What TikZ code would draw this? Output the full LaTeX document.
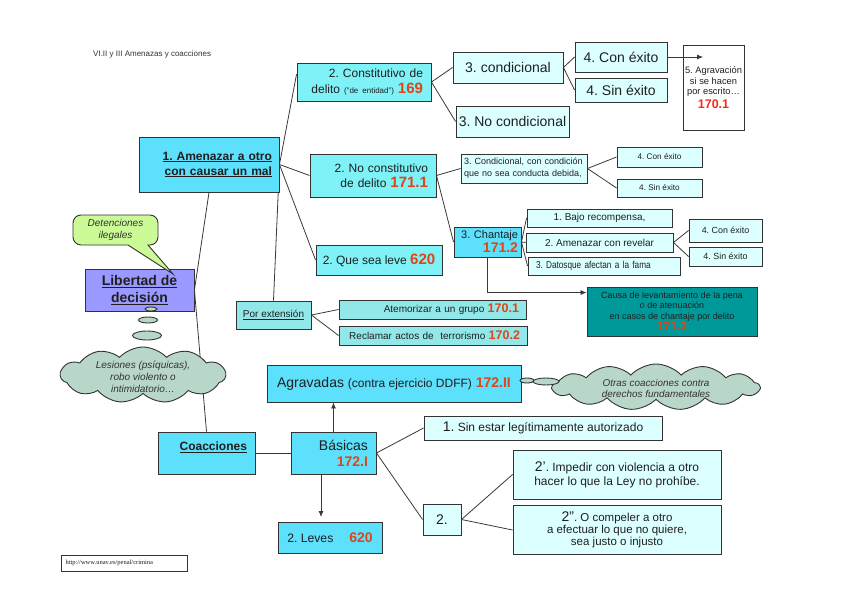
\documentclass[tikz,border=0pt]{standalone}
\usepackage{fontspec}
\setmainfont{Liberation Sans}
\newfontfamily\serifurl{Liberation Serif}
\newfontfamily\narrowsans[FakeStretch=0.82]{Liberation Sans}
\usetikzlibrary{shapes.symbols,backgrounds,calc,arrows.meta}
\definecolor{cA}{RGB}{92,224,252}
\definecolor{cB}{RGB}{126,242,247}
\definecolor{cC}{RGB}{220,255,255}
\definecolor{cD}{RGB}{146,232,232}
\definecolor{tealc}{RGB}{0,153,153}
\definecolor{libc}{RGB}{153,153,255}
\definecolor{detc}{RGB}{204,250,150}
\definecolor{cloudc}{RGB}{185,215,200}
\definecolor{numred}{RGB}{220,70,25}
\definecolor{numred2}{RGB}{250,40,20}
\newcommand\fz[2]{\fontsize{#1}{#2}\selectfont}
\newcommand\rn[1]{{\bfseries\color{numred}#1}}
\frenchspacing
\begin{document}
\begin{tikzpicture}[x=1pt,y=-1pt,
  bx/.style={draw=black!80, line width=0.9pt, inner xsep=4pt, inner ysep=0pt, text=black!88},
  ln/.style={draw=black!78, line width=0.8pt},
  arr/.style={ln, -{Latex[length=6pt,width=5pt]}},
  cloudbox/.style={cloud, cloud puffs=11, cloud puff arc=95, cloud ignores aspect, draw=black!80, line width=0.9pt, fill=cloudc, inner sep=0pt},
  bubble/.style={draw=black!80, line width=0.9pt},
]
\useasboundingbox (0,0) rectangle (848,599);

% title
\node[anchor=west, inner sep=0pt, text=black!80, font={\fz{8}{10}}] (title) at (93,54) {VI.II y III Amenazas y coacciones};

% upper branch
\node[bx, fill=cB, minimum width=134pt, minimum height=38pt, inner xsep=8pt, text width=118pt, align=right, font={\fz{12}{16}}] (con) at (364,82)
  {2. Constitutivo de\\delito {\fz{8}{10}("de entidad")} \rn{\fz{15}{16}169}};
\node[bx, fill=cC, minimum width=110pt, minimum height=31pt, font={\fz{14}{16}}] (cond) at (508,67.5) {3. condicional};
\node[bx, fill=cC, minimum width=113pt, minimum height=31pt, inner xsep=1pt, font={\fz{14}{16}}] (nocond) at (512.5,121.5) {3. No condicional};
\node[bx, fill=cC, minimum width=92pt, minimum height=30pt, font={\fz{14}{16}}] (conex1) at (621,57) {4. Con éxito};
\node[bx, fill=cC, minimum width=92pt, minimum height=24pt, font={\fz{14}{16}}] (sinex1) at (621,90) {4. Sin éxito};
\node[bx, fill=white, minimum width=61pt, minimum height=85pt, inner xsep=1pt, align=center, font={\fz{9.3}{10.5}}] (agr5) at (713.5,87.5)
  {5. Agravación\\si se hacen\\por escrito…\\[2pt]{\bfseries\color{numred2}\fz{12.5}{13}170.1}};

\node[bx, fill=cA, minimum width=140pt, minimum height=55pt, inner xsep=7pt, text width=126pt, align=right, font={\fz{12}{15}\bfseries}] (amen) at (209,164.5)
  {\underline{1. Amenazar a otro}\\\underline{con causar un mal}};
\node[bx, fill=cB, minimum width=126pt, minimum height=43pt, inner xsep=8pt, text width=110pt, align=right, font={\fz{12}{15}}] (nocons) at (373,175.5)
  {2. No constitutivo\\de delito \rn{\fz{15}{15}171.1}};
\node[bx, fill=cB, minimum width=126pt, minimum height=30pt, font={\fz{12}{14}}] (leve) at (379,260)
  {2. Que sea leve \rn{\fz{15}{15}620}};

\node[bx, fill=cC, minimum width=126pt, minimum height=29pt, inner xsep=3pt, text width=120pt, align=left, font={\fz{9}{12}}] (condc) at (524,168.5)
  {3. Condicional, con condición\\que no sea conducta debida,};
\node[bx, fill=cC, minimum width=85pt, minimum height=20pt, font={\fz{8.2}{10}}] (conex2) at (659.5,157) {4. Con éxito};
\node[bx, fill=cC, minimum width=85pt, minimum height=18pt, font={\fz{8.2}{10}}] (sinex2) at (659.5,188) {4. Sin éxito};

\node[bx, fill=cA, minimum width=67pt, minimum height=30pt, inner xsep=3pt, text width=61pt, align=right, font={\fz{11}{14}}] (chant) at (487.5,242)
  {3. Chantaje\\\rn{\fz{14}{14}171.2}};
\node[bx, fill=cC, minimum width=145pt, minimum height=18pt, font={\fz{10}{12}}] (bajo) at (599.5,218) {1. Bajo recompensa,};
\node[bx, fill=cC, minimum width=147pt, minimum height=19pt, font={\fz{10}{12}}] (revel) at (599.5,242.5) {2. Amenazar con revelar};
\node[bx, fill=cC, minimum width=152pt, minimum height=18pt, inner xsep=8pt, text width=136pt, align=left, font={\narrowsans\fz{10}{12}}] (datos) at (604,266) {3. Datosque afectan a la fama};
\node[bx, fill=cC, minimum width=73pt, minimum height=23pt, font={\fz{8.9}{10}}] (conex3) at (725.5,230.5) {4. Con éxito};
\node[bx, fill=cC, minimum width=73pt, minimum height=19pt, font={\fz{8.9}{10}}] (sinex3) at (725.5,256.5) {4. Sin éxito};

\node[bx, fill=tealc, minimum width=170pt, minimum height=49pt, inner xsep=1pt, align=center, font={\fz{9}{10.5}}] (teal) at (672,311.5)
  {Causa de levantamiento de la pena\\o de atenuación\\en casos de chantaje por delito\\[1pt]\rn{\fz{12}{13}171.3}};

% Por extension
\node[bx, fill=cD, minimum width=75pt, minimum height=28pt, font={\fz{10}{12}}] (porext) at (273.5,315) {\underline{Por extensión}};
\node[bx, fill=cD, minimum width=187pt, minimum height=19pt, inner xsep=7pt, text width=173pt, align=right, font={\fz{10}{12}}] (atem) at (432.5,309.5)
  {Atemorizar a un grupo \rn{\fz{12.5}{12}170.1}};
\node[bx, fill=cD, minimum width=188pt, minimum height=19pt, inner xsep=7pt, text width=174pt, align=right, font={\fz{10}{12}}] (recl) at (433,335.5)
  {Reclamar actos de\ \ terrorismo \rn{\fz{12.5}{12}170.2}};

% Libertad
\node[bx, fill=libc, minimum width=109pt, minimum height=42pt, align=center, font={\fz{14}{17}\bfseries}] (lib) at (139.5,290)
  {\underline{Libertad de}\\\underline{decisión}};

% Detenciones bubble
\draw[bubble, fill=detc] (128,245) [rounded corners=8pt] -- (73,245) -- (73,215) -- (158,215) -- (158,245) [sharp corners] -- (148,245) -- (173,274) -- cycle;
\node[align=center, font={\fz{10}{12}\itshape}, text=black!80, inner sep=0pt] (det) at (115.5,230) {Detenciones\\ilegales};

% thought bubbles + cloud 1
\draw[bubble, fill=cloudc] (151,309) ellipse [x radius=6, y radius=2];
\draw[bubble, fill=cloudc] (148,320) ellipse [x radius=9.5, y radius=3];
\draw[bubble, fill=cloudc] (147,335.5) ellipse [x radius=14.5, y radius=4.5];
\node[cloudbox, minimum width=165pt, minimum height=56pt] (cl1) at (143,375) {};
\node[align=center, font={\fz{10}{12}\itshape}, text=black!80, inner sep=0pt] (cl1t) at (143,377) {Lesiones (psíquicas),\\robo violento o\\intimidatorio…};

% Coacciones
\node[bx, fill=cA, minimum width=254pt, minimum height=37pt, font={\fz{14}{16}}] (agr) at (394,383.5)
  {Agravadas {\fz{12}{14}(contra ejercicio DDFF)} \rn{172.II}};
\node[cloudbox, minimum width=207pt, minimum height=46pt, cloud puffs=13] (cl2) at (656,387) {};
\node[align=center, font={\fz{9.9}{11.7}\itshape}, text=black!80, inner sep=0pt] (cl2t) at (656,388.5) {Otras coacciones contra\\derechos fundamentales};
\draw[bubble, fill=cloudc] (527,380.5) ellipse [x radius=7, y radius=2.5];
\draw[bubble, fill=cloudc] (546,381.5) ellipse [x radius=13, y radius=3.5];

\node[bx, fill=cA, minimum width=97pt, minimum height=42pt, inner xsep=8pt, text width=81pt, align=right, font={\fz{12}{14}\bfseries}, text depth=14pt] (coac) at (206.5,453)
  {\underline{Coacciones}};
\node[bx, fill=cA, minimum width=85pt, minimum height=42pt, inner xsep=8pt, text width=69pt, align=right, font={\fz{14}{16}}] (bas) at (333.5,453)
  {Básicas\\\rn{172.I}};
\node[bx, fill=cA, minimum width=104pt, minimum height=31pt, font={\fz{12.2}{14}}] (leves) at (330,537.5)
  {2. Leves\hspace{16pt}\rn{\fz{14}{14}620}};
\node[bx, fill=cC, minimum width=238pt, minimum height=24pt, font={\fz{12}{14}}] (sin) at (543,428)
  {{\fz{14}{14}1.} Sin estar legítimamente autorizado};
\node[bx, fill=cC, minimum width=38pt, minimum height=31pt, font={\fz{14}{14}}] (two) at (442,519.5) {2.};
\node[bx, fill=cC, minimum width=208pt, minimum height=49pt, align=center, font={\fz{12}{14}}] (twop) at (617,474.5)
  {{\fz{14}{14}2'}. Impedir con violencia a otro\\hacer lo que la Ley no prohíbe.};
\node[bx, fill=cC, minimum width=208pt, minimum height=49pt, align=center, font={\fz{11.5}{10}}] (twopp) at (617,530)
  {{\fz{14}{10}2''}. O compeler a otro\\a efectuar lo que no quiere,\\sea justo o injusto};

% url
\node[bx, fill=white, line width=0.8pt, minimum width=126pt, minimum height=16pt, text width=118pt, align=left, font={\serifurl\fz{6.5}{8}}] (url) at (124.5,563)
  {http://www.unav.es/penal/crimina};

% connectors (behind boxes)
\begin{pgfonlayer}{background}
\draw[ln] (amen.east) -- ($(con.north west)!0.3!(con.south west)$);
\draw[ln] (amen.east) -- (nocons.west);
\draw[ln] (amen.east) -- (leve.west);
\draw[ln] (amen.east) -- (porext.north);
\draw[ln] (amen.south) -- (lib.east) -- (coac.north);
\draw[ln] (con.east) -- (cond.west);
\draw[ln] (con.east) -- (nocond.west);
\draw[ln] (cond.east) -- (conex1.west);
\draw[ln] (cond.east) -- (sinex1.west);
\draw[ln] (nocons.east) -- (condc.west);
\draw[ln] (nocons.east) -- (chant.west);
\draw[ln] (condc.east) -- (conex2.west);
\draw[ln] (condc.east) -- (sinex2.west);
\draw[ln] (chant.east) -- (bajo.west);
\draw[ln] (chant.east) -- (revel.west);
\draw[ln] (chant.east) -- (datos.west);
\draw[ln] (revel.east) -- (conex3.west);
\draw[ln] (revel.east) -- (sinex3.west);
\draw[ln] (porext.east) -- (atem.west);
\draw[ln] (porext.east) -- (recl.west);
\draw[ln] (coac.east) -- (bas.west);
\draw[ln] (bas.east) -- (sin.west);
\draw[ln] (bas.east) -- (two.west);
\draw[ln] (two.east) -- (twop.west);
\draw[ln] (two.east) -- (twopp.west);
\end{pgfonlayer}

% arrows
\coordinate (arrEnd) at (703,57);
\draw[arr] (conex1.east) -- (arrEnd);
\draw[arr] (chant.south) |- ($(teal.north west)+(0,6)$);
\draw[arr] (bas.north) -- (bas.north |- agr.south);
\coordinate (levTip) at (321,517);
\draw[arr] (levTip |- bas.south) -- (levTip);
\end{tikzpicture}
\end{document}
